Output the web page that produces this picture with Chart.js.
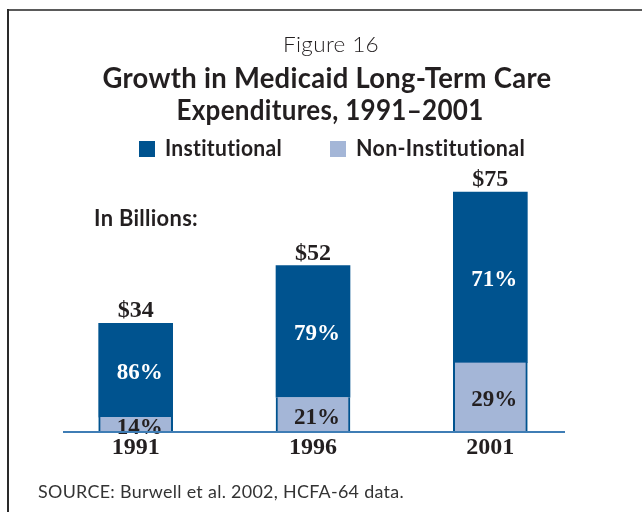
<!DOCTYPE html>
<html>
<head>
<meta charset="utf-8">
<script src="https://cdn.jsdelivr.net/npm/chart.js@4.4.1/dist/chart.umd.min.js"></script>
<style>
  html, body { margin: 0; padding: 0; background: #fff; }
  #wrap { width: 642px; height: 512px; }
</style>
</head>
<body>
<div id="wrap"><canvas id="chart" width="642" height="512"></canvas></div>
<script>
// Medicaid long-term care spending, billions of dollars, split by setting
const years = ['1991', '1996', '2001'];
const totals = [34, 52, 75];
const institutionalPct = [86, 79, 71];
const nonInstitutionalPct = [14, 21, 29];

const DARK_BLUE = '#00538f';
const LIGHT_BLUE = '#a4b6d7';
const INK = '#231f20';
const SANS = 'Lato, "Noto Sans", sans-serif';
const SERIF = '"Liberation Serif", "DejaVu Serif", serif';

const share = (pct) => pct.map((p, i) => totals[i] * p / 100);

// draws text squeezed/stretched to a given width
function fitText(ctx, text, x, y, width, align) {
  const w = ctx.measureText(text).width;
  ctx.save();
  ctx.translate(x, y);
  ctx.scale(width / w, 1);
  ctx.textAlign = align || 'center';
  ctx.fillText(text, 0, 0);
  ctx.restore();
}

const decorations = {
  id: 'decorations',
  beforeDraw(chart) {
    const ctx = chart.ctx;
    ctx.save();
    ctx.fillStyle = '#fff';
    ctx.fillRect(0, 0, chart.width, chart.height);
    // frame: top and left rules
    ctx.fillStyle = '#5a5a5a';
    ctx.fillRect(7, 9, chart.width - 7, 2);
    ctx.fillStyle = '#2a2a2a';
    ctx.fillRect(7, 9, 2, chart.height - 9);
    ctx.restore();
  },
  afterDatasetsDraw(chart) {
    const ctx = chart.ctx;
    const nonMeta = chart.getDatasetMeta(0);
    const instMeta = chart.getDatasetMeta(1);
    ctx.save();
    ctx.textBaseline = 'middle';
    ctx.textAlign = 'center';
    ctx.font = 'bold 23px ' + SERIF;
    years.forEach((_, i) => {
      const lo = nonMeta.data[i].getProps(['x', 'y', 'base'], true);
      const hi = instMeta.data[i].getProps(['x', 'y', 'base'], true);
      ctx.fillStyle = INK;
      ctx.fillText(nonInstitutionalPct[i] + '%', lo.x + 4, (lo.y + lo.base) / 2 + 3);
      ctx.fillStyle = '#fff';
      ctx.fillText(institutionalPct[i] + '%', hi.x + 4, (hi.y + hi.base) / 2 + 3);
    });
    // totals above each stack
    ctx.font = 'bold 24px ' + SERIF;
    ctx.textBaseline = 'alphabetic';
    ctx.fillStyle = INK;
    years.forEach((_, i) => {
      const hi = instMeta.data[i].getProps(['x', 'y'], true);
      ctx.fillText('$' + totals[i], hi.x, hi.y - 6);
    });
    // baseline rule
    const y0 = chart.scales.y.getPixelForValue(0);
    ctx.fillStyle = '#3f7db5';
    ctx.fillRect(63, Math.round(y0) - 1, 502, 2);
    ctx.restore();
  },
  afterDraw(chart) {
    const ctx = chart.ctx;
    ctx.save();
    ctx.fillStyle = INK;
    ctx.textBaseline = 'alphabetic';
    // a little tracking keeps Lato from joining "ti"
    ctx.letterSpacing = '0.3px';

    ctx.font = '300 21px ' + SANS;
    fitText(ctx, 'Figure 16', 331, 52, 96);
    ctx.font = 'bold 28px ' + SANS;
    fitText(ctx, 'Growth in Medicaid Long-Term Care', 327, 88, 449);
    fitText(ctx, 'Expenditures, 1991\u20132001', 330, 120, 307);

    // legend
    const ds = chart.data.datasets;
    const items = [
      { set: ds[1], box: 139, text: 165, width: 117 },
      { set: ds[0], box: 330, text: 356, width: 169 }
    ];
    ctx.font = 'bold 23px ' + SANS;
    items.forEach((it) => {
      ctx.fillStyle = it.set.backgroundColor;
      ctx.fillRect(it.box, 141, 16, 16);
      ctx.fillStyle = INK;
      fitText(ctx, it.set.label, it.text, 156, it.width, 'left');
    });

    ctx.font = 'bold 22px ' + SANS;
    fitText(ctx, 'In Billions:', 94, 226, 104, 'left');

    ctx.font = '18px ' + SANS;
    ctx.fillStyle = '#333';
    fitText(ctx, 'SOURCE: Burwell et al. 2002, HCFA-64 data.', 38, 498, 366, 'left');
    ctx.restore();
  }
};

new Chart(document.getElementById('chart'), {
  type: 'bar',
  data: {
    labels: years,
    datasets: [
      {
        label: 'Non-Institutional',
        data: share(nonInstitutionalPct),
        backgroundColor: LIGHT_BLUE,
        borderColor: DARK_BLUE,
        borderWidth: { left: 2, right: 2, top: 0, bottom: 0 },
        borderSkipped: false,
        barThickness: 74
      },
      {
        label: 'Institutional',
        data: share(institutionalPct),
        backgroundColor: DARK_BLUE,
        borderWidth: 0,
        barThickness: 74
      }
    ]
  },
  options: {
    responsive: false,
    animation: false,
    devicePixelRatio: 1,
    layout: {
      padding: { top: 176, left: 47, right: 63, bottom: 49 }
    },
    plugins: {
      legend: { display: false },
      title: { display: false },
      tooltip: { enabled: false }
    },
    scales: {
      x: {
        stacked: true,
        grid: { display: false, drawTicks: false },
        border: { display: false },
        ticks: {
          color: INK,
          padding: 1,
          font: { family: SERIF, size: 24, weight: 'bold' }
        }
      },
      y: {
        stacked: true,
        display: false,
        min: 0,
        max: 80
      }
    }
  },
  plugins: [decorations]
});
</script>
</body>
</html>
